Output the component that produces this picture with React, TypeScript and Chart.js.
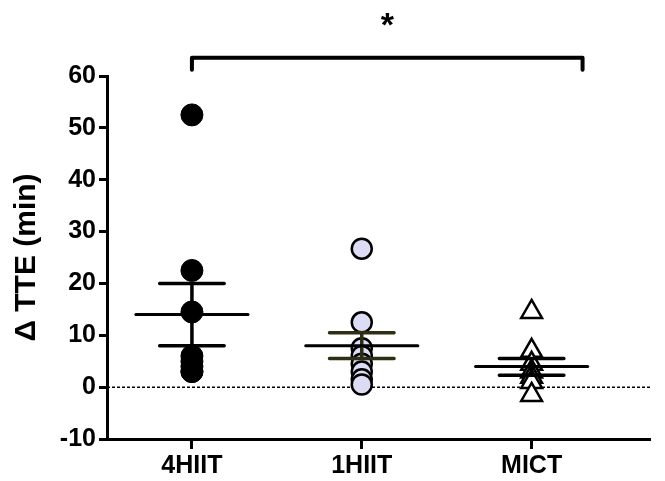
import React, { useEffect, useRef } from "react";
import { Chart, registerables } from "chart.js";

Chart.register(...registerables);

const categories = ["4HIIT", "1HIIT", "MICT"];
const hiit4Values = [52.5, 22.5, 14.5, 6, 5, 4, 3, 3];
const hiit1Values = [26.7, 12.5, 7.5, 6, 4.5, 3, 1.5, 0.5];
const mictValues = [14.5, 7, 4.5, 3, 2, 1, -1.5];
const groupMeans = [14, 8, 4];
const semUpper = [20, 10.5, 5.5];
const semLower = [8, 5.5, 2.3];
const semColors = ["#000000", "#2e2e14", "#000000"];
const yTickValues = [-10, 0, 10, 20, 30, 40, 50, 60];
const bracketGroups = [1, 3.3];
const bracketLevel = 63.5;
const bracketDrop = 2.3;
const starLevel = 71;
const starLabel = "*";

const FONT = "'Liberation Sans', Arial, Helvetica, sans-serif";

const overlayPlugin = {
  id: "overlay",
  beforeDatasetsDraw(chart: any) {
    const { ctx, chartArea, scales } = chart;
    const y0 = scales.y.getPixelForValue(0);
    ctx.save();
    ctx.strokeStyle = "#000";
    ctx.lineWidth = 1.5;
    ctx.setLineDash([3, 2]);
    ctx.beginPath();
    ctx.moveTo(chartArea.left, y0);
    ctx.lineTo(chartArea.right, y0);
    ctx.stroke();
    ctx.restore();
  },
  afterDatasetsDraw(chart: any) {
    const { ctx, scales } = chart;
    const xs = scales.x;
    const ys = scales.y;
    const unit = xs.getPixelForValue(2) - xs.getPixelForValue(1);
    ctx.save();
    ctx.lineCap = "round";
    groupMeans.forEach((m, i) => {
      const cx = xs.getPixelForValue(i + 1);
      const yu = ys.getPixelForValue(semUpper[i]);
      const yl = ys.getPixelForValue(semLower[i]);
      const ym = ys.getPixelForValue(m);
      ctx.strokeStyle = semColors[i];
      ctx.lineWidth = 3.5;
      ctx.beginPath();
      ctx.moveTo(cx, yu);
      ctx.lineTo(cx, yl);
      ctx.moveTo(cx - unit * 0.19, yu);
      ctx.lineTo(cx + unit * 0.19, yu);
      ctx.moveTo(cx - unit * 0.19, yl);
      ctx.lineTo(cx + unit * 0.19, yl);
      ctx.stroke();
      ctx.strokeStyle = "#000";
      ctx.lineWidth = 3;
      ctx.beginPath();
      ctx.moveTo(cx - unit * 0.33, ym);
      ctx.lineTo(cx + unit * 0.33, ym);
      ctx.stroke();
    });
    // significance bracket
    const bx1 = xs.getPixelForValue(bracketGroups[0]);
    const bx2 = xs.getPixelForValue(bracketGroups[1]);
    const by = ys.getPixelForValue(bracketLevel);
    const byd = ys.getPixelForValue(bracketLevel - bracketDrop);
    ctx.strokeStyle = "#000";
    ctx.lineWidth = 4;
    ctx.lineJoin = "round";
    ctx.beginPath();
    ctx.moveTo(bx1, byd);
    ctx.lineTo(bx1, by);
    ctx.lineTo(bx2, by);
    ctx.lineTo(bx2, byd);
    ctx.stroke();
    ctx.fillStyle = "#000";
    ctx.font = `bold 34px ${FONT}`;
    ctx.textAlign = "center";
    ctx.textBaseline = "middle";
    ctx.fillText(starLabel, (bx1 + bx2) / 2, ys.getPixelForValue(starLevel) + 8);
    ctx.restore();
  },
};

export default function App() {
  const ref = useRef<HTMLCanvasElement>(null);
  useEffect(() => {
    document.body.style.margin = "0";
    const toPts = (vals: number[], i: number) => vals.map((v) => ({ x: i + 1, y: v }));
    const chart = new Chart(ref.current!, {
      type: "scatter",
      data: {
        datasets: [
          {
            data: toPts(hiit4Values, 0),
            pointStyle: "circle",
            pointRadius: 11,
            backgroundColor: "#000",
            borderColor: "#000",
            borderWidth: 1,
          },
          {
            data: toPts(hiit1Values, 1),
            pointStyle: "circle",
            pointRadius: 10,
            backgroundColor: "#dcdcf4",
            borderColor: "#000",
            borderWidth: 2.5,
          },
          {
            data: toPts(mictValues, 2),
            pointStyle: "triangle",
            pointRadius: 12,
            backgroundColor: "#fff",
            borderColor: "#000",
            borderWidth: 2.5,
          },
        ],
      },
      options: {
        animation: false,
        responsive: false,
        maintainAspectRatio: false,
        layout: { padding: { top: 76, right: 1, left: 0, bottom: 0 } },
        plugins: { legend: { display: false }, tooltip: { enabled: false } },
        scales: {
          x: {
            type: "linear",
            min: 0.5,
            max: 3.7,
            afterBuildTicks: (axis: any) => {
              axis.ticks = categories.map((_, i) => ({ value: i + 1 }));
            },
            afterFit: (axis: any) => {
              axis.height = 42;
            },
            ticks: {
              callback: (v: any) => categories[Number(v) - 1] ?? "",
              color: "#000",
              font: { family: FONT, size: 25, weight: "bold" },
              padding: 2,
              maxRotation: 0,
            },
            grid: {
              drawOnChartArea: false,
              drawTicks: true,
              tickLength: 10,
              tickWidth: 3,
              tickColor: "#000",
            },
            border: { color: "#000", width: 3 },
          },
          y: {
            type: "linear",
            min: -10,
            max: 60,
            afterBuildTicks: (axis: any) => {
              axis.ticks = yTickValues.map((v) => ({ value: v }));
            },
            afterFit: (axis: any) => {
              axis.width = 107;
            },
            ticks: {
              color: "#000",
              font: { family: FONT, size: 25, weight: "bold" },
              padding: 3,
            },
            grid: {
              drawOnChartArea: false,
              drawTicks: true,
              tickLength: 8,
              tickWidth: 3,
              tickColor: "#000",
            },
            border: { color: "#000", width: 3 },
            title: {
              display: true,
              text: "Δ TTE (min)",
              color: "#000",
              font: { family: FONT, size: 30, weight: "bold" },
              padding: { top: 9, bottom: 0 },
            },
          },
        },
      },
      plugins: [overlayPlugin],
    });
    return () => chart.destroy();
  }, []);
  return (
    <div style={{ position: "absolute", left: 0, top: 0, width: 665, height: 481 }}>
      <canvas ref={ref} width={665} height={481} style={{ display: "block" }} />
    </div>
  );
}
